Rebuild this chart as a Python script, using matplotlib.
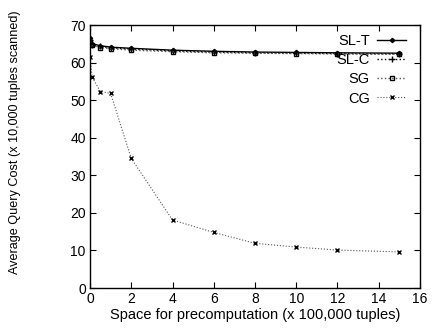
import matplotlib
matplotlib.use("Agg")
import matplotlib.pyplot as plt

plt.rcParams['font.family'] = ['Liberation Sans', 'DejaVu Sans']

# space for precomputation (x 100,000 tuples)
space = [0, 0.1, 0.5, 1, 2, 4, 6, 8, 10, 12, 15]

slt = [66.5, 65.0, 64.5, 64.1, 63.8, 63.3, 63.0, 62.8, 62.7, 62.6, 62.5]
slc = [66.0, 64.8, 64.3, 63.9, 63.6, 63.1, 62.8, 62.6, 62.5, 62.4, 62.3]
sg = [65.5, 64.6, 64.0, 63.7, 63.3, 62.9, 62.6, 62.5, 62.4, 62.3, 62.2]
cg = [61.5, 56.2, 52.3, 51.8, 34.5, 18.1, 14.8, 11.9, 10.9, 10.1, 9.6]

fig = plt.figure(figsize=(4.34, 3.29), dpi=100)
ax = fig.add_axes([0.2074, 0.1246, 0.7603, 0.7994])

ax.plot(space, slt, color='black', lw=1.0, marker='D', ms=2.2, label='SL-T')
ax.plot(space, slc, color='black', lw=1.0, ls=':', marker='+', ms=4, label='SL-C')
ax.plot(space, sg, color='#555555', lw=1.0, ls=':', marker='s', ms=3.5,
        mfc='none', mec='black', label='SG')
ax.plot(space, cg, color='#555555', lw=0.8, ls=':', marker='x', ms=3.5,
        mec='black', label='CG')

ax.set_xlim(0, 16)
ax.set_ylim(0, 70)
ax.set_xticks(range(0, 17, 2))
ax.set_yticks(range(0, 71, 10))
ax.tick_params(direction='in', top=True, right=True, labelsize=10, length=4, pad=3)
for s in ax.spines.values():
    s.set_linewidth(1.0)

ax.set_xlabel('Space for precomputation (x 100,000 tuples)', fontsize=10.5, labelpad=1)
ax.set_ylabel('Average Query Cost (x 10,000 tuples scanned)', fontsize=9.1)
ax.yaxis.set_label_coords(-0.209, 0.555)

ax.legend(loc='upper right', frameon=False, markerfirst=False, fontsize=10.5,
          handlelength=2.0, handletextpad=0.5, labelspacing=0.36,
          borderaxespad=0.2, bbox_to_anchor=(0.985, 1.0))

fig.savefig('out.png', dpi=100)
